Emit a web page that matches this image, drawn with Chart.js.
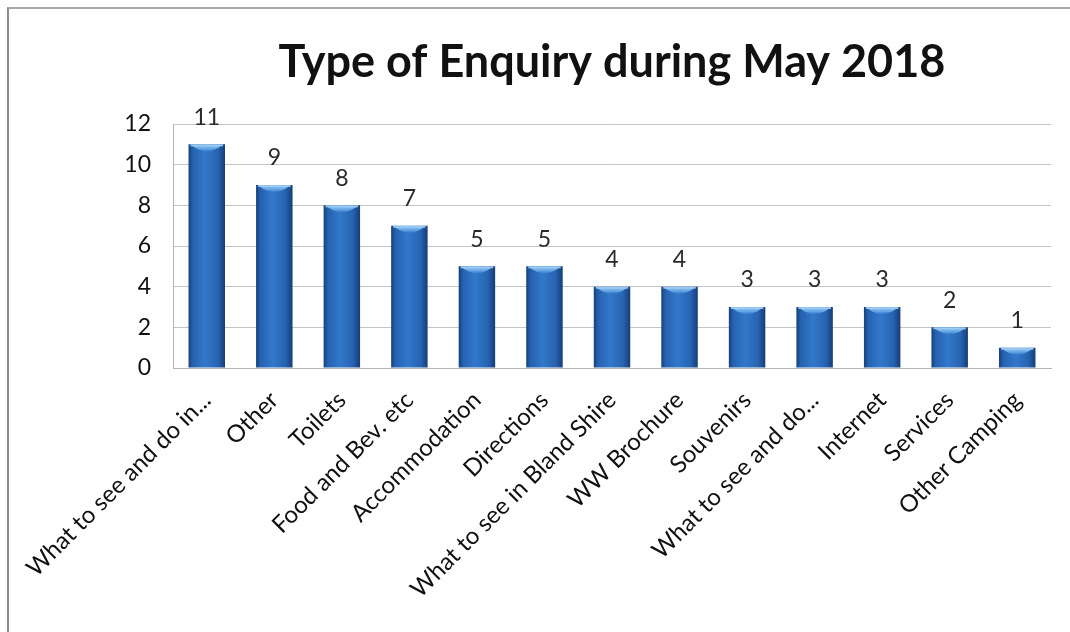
<!DOCTYPE html>
<html>
<head>
<meta charset="utf-8">
<script src="https://cdn.jsdelivr.net/npm/chart.js@4.4.1/dist/chart.umd.min.js"></script>
<style>
  html, body { margin: 0; padding: 0; background: #fff; }
  #wrap { position: relative; width: 1070px; height: 632px; overflow: hidden; }
  #frame { position: absolute; left: 7px; top: 7px; width: 1100px; height: 700px;
           border-left: 2px solid #8c8c8c; border-top: 2px solid #a8a8a8; box-sizing: border-box; }
  canvas { position: absolute; left: 0; top: 0; }
</style>
</head>
<body>
<div id="wrap">
  <div id="frame"></div>
  <canvas id="chart" width="1070" height="632"></canvas>
</div>
<script>
// Enquiry categories and counts for May 2018
const categories = [
  "What to see and do in...", "Other", "Toilets", "Food and Bev. etc",
  "Accommodation", "Directions", "What to see in Bland Shire", "WW Brochure",
  "Souvenirs", "What to see and do...", "Internet", "Services", "Other Camping"
];
const enquiries = [11, 9, 8, 7, 5, 5, 4, 4, 3, 3, 3, 2, 1];
const yTicks = [0, 2, 4, 6, 8, 10, 12];
const chartTitle = "Type of Enquiry during May 2018";

const FONT = "Lato, 'Open Sans', sans-serif";
const BAR_FRACTION = 0.54;

// Horizontal shading of one column: dark edges, lighter middle
function columnFill(c) {
  const chart = c.chart;
  const xs = chart.scales.x;
  if (!xs || !chart.chartArea) return '#2a6bbd';
  const slot = xs.width / categories.length;
  const cx = xs.getPixelForValue(c.dataIndex);
  const half = slot * BAR_FRACTION / 2;
  const g = chart.ctx.createLinearGradient(cx - half, 0, cx + half, 0);
  g.addColorStop(0, '#17407a');
  g.addColorStop(0.12, '#2662b0');
  g.addColorStop(0.45, '#3278ca');
  g.addColorStop(0.8, '#2764b2');
  g.addColorStop(1, '#163d76');
  return g;
}

// Pale cap along the top of each column
const columnCaps = {
  id: 'columnCaps',
  afterDatasetsDraw(chart) {
    const ctx = chart.ctx;
    chart.getDatasetMeta(0).data.forEach(bar => {
      const left = bar.x - bar.width / 2, w = bar.width;
      const top = bar.y;
      ctx.save();
      const cap = ctx.createLinearGradient(0, top, 0, top + 9);
      cap.addColorStop(0, '#9ccaf2');
      cap.addColorStop(0.5, '#62a4e4');
      cap.addColorStop(1, 'rgba(50,119,201,0)');
      ctx.fillStyle = cap;
      ctx.beginPath();
      ctx.moveTo(left + 3, top + 1);
      ctx.lineTo(left + w - 3, top + 1);
      ctx.quadraticCurveTo(left + w / 2, top + 13, left + 3, top + 1);
      ctx.fill();
      ctx.fillStyle = 'rgba(160,205,245,0.9)';
      ctx.fillRect(left + 2, top, w - 4, 2);
      ctx.restore();
    });
  }
};

// Count written above every column
const valueLabels = {
  id: 'valueLabels',
  afterDatasetsDraw(chart) {
    const ctx = chart.ctx;
    const meta = chart.getDatasetMeta(0);
    ctx.save();
    ctx.font = "23px " + FONT;
    ctx.fillStyle = '#2a2a2a';
    ctx.textAlign = 'center';
    ctx.textBaseline = 'middle';
    meta.data.forEach((bar, i) => {
      ctx.fillText(String(enquiries[i]), bar.x, bar.y - 27);
    });
    ctx.restore();
  }
};

// Heading centred over the plot area
const heading = {
  id: 'heading',
  afterDraw(chart) {
    const ctx = chart.ctx;
    const a = chart.chartArea;
    ctx.save();
    ctx.font = "bold 45px " + FONT;
    ctx.fillStyle = '#111';
    ctx.textAlign = 'center';
    ctx.textBaseline = 'middle';
    ctx.fillText(chartTitle, (a.left + a.right) / 2, 62);
    ctx.restore();
  }
};

new Chart(document.getElementById('chart'), {
  type: 'bar',
  data: {
    labels: categories,
    datasets: [{
      data: enquiries,
      backgroundColor: columnFill,
      borderWidth: 0,
      barPercentage: BAR_FRACTION,
      categoryPercentage: 1.0
    }]
  },
  options: {
    responsive: false,
    animation: false,
    layout: { padding: { left: 0, right: 19, top: 124, bottom: 0 } },
    plugins: {
      legend: { display: false },
      tooltip: { enabled: false },
      title: { display: false }
    },
    scales: {
      x: {
        offset: true,
        grid: { display: false, drawTicks: false },
        border: { display: true, color: '#b5b5b5', width: 1 },
        ticks: {
          autoSkip: false,
          maxRotation: 45,
          minRotation: 45,
          padding: 18,
          color: '#111',
          font: { family: FONT, size: 24 }
        },
        afterFit(scale) { scale.height = 264; }
      },
      y: {
        min: 0,
        max: 12,
        afterBuildTicks(scale) { scale.ticks = yTicks.map(v => ({ value: v })); },
        grid: { color: '#c4c4c4', lineWidth: 1, drawTicks: false },
        border: { display: true, color: '#b5b5b5', width: 1 },
        ticks: {
          padding: 22,
          color: '#111',
          font: { family: FONT, size: 23 }
        },
        afterFit(scale) { scale.width = 173; }
      }
    }
  },
  plugins: [columnCaps, valueLabels, heading]
});
</script>
</body>
</html>
